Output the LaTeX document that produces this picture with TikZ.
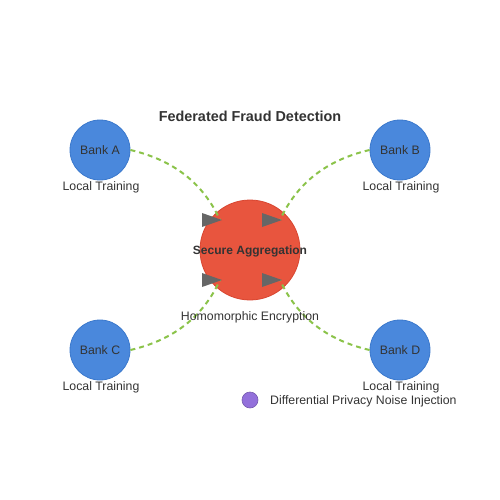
\documentclass[tikz,border=0pt]{standalone}
\usepackage{fontspec}
\setmainfont{Liberation Sans}
\usepackage{tikz}
\usetikzlibrary{arrows.meta}

\definecolor{bankblue}{HTML}{4A88DC}
\definecolor{bankedge}{HTML}{3A78CC}
\definecolor{aggred}{HTML}{E8553E}
\definecolor{aggedge}{HTML}{D84530}
\definecolor{linkgreen}{HTML}{8BC34A}
\definecolor{tipgray}{HTML}{666666}
\definecolor{noisepurple}{HTML}{9370DB}
\definecolor{txt}{HTML}{333333}

\tikzset{
  bank/.style={circle, fill=bankblue, draw=bankedge, line width=0.8pt, minimum size=60pt, inner sep=0pt, text=txt, font=\fontsize{12.3}{14}\selectfont},
  note/.style={text=txt, font=\fontsize{12.3}{14}\selectfont, inner sep=0pt},
  link/.style={dashed, dash pattern=on 5pt off 4pt, line width=2pt, draw=linkgreen}
}

\begin{document}
\begin{tikzpicture}[x=1pt, y=-1pt]
\useasboundingbox (0,0) rectangle (500,500);
\begin{scope}
    \node (agg) at (250,250) [circle, fill=aggred, draw=aggedge, line width=0.8pt, minimum size=100pt, inner sep=0pt] {};
    \node (bankA) at (100,150) [bank] {Bank A};
    \node (bankB) at (400,150) [bank] {Bank B};
    \node (bankC) at (100,350) [bank] {Bank C};
    \node (bankD) at (400,350) [bank] {Bank D};

    \coordinate (inA) at (220,220);
    \coordinate (inB) at (280,220);
    \coordinate (inC) at (220,280);
    \coordinate (inD) at (280,280);
\end{scope}
\draw[link] (bankA.east) .. controls +(43,10) and +(-17,-37) .. (inA);
\draw[link] (bankB.west) .. controls +(-43,10) and +(17,-37) .. (inB);
\draw[link] (bankC.east) .. controls +(43,-10) and +(-17,37) .. (inC);
\draw[link] (bankD.west) .. controls +(-43,-10) and +(17,37) .. (inD);
\foreach \p in {inA,inB,inC,inD}
    \fill[tipgray] ([xshift=2pt]\p) -- ++(-20,-7) -- ++(0,14) -- cycle;

\node (title) at (250,116) [note, font=\fontsize{14.4}{16}\selectfont\bfseries] {Federated Fraud Detection};
\node (secure) at (250,251) [note, font=\fontsize{12}{14}\selectfont\bfseries] {Secure Aggregation};
\node (homo) at (250,317) [note] {Homomorphic Encryption};
\node (ltA) at (101,187) [note] {Local Training};
\node (ltB) at (401,187) [note] {Local Training};
\node (ltC) at (101,387) [note] {Local Training};
\node (ltD) at (401,387) [note] {Local Training};
\node (noise) at (250,400) [circle, fill=noisepurple, draw=noisepurple!80!black, line width=0.6pt, minimum size=16pt, inner sep=0pt] {};
\node (noiselbl) at (270,401) [note, anchor=west] {Differential Privacy Noise Injection};
\end{tikzpicture}
\end{document}
